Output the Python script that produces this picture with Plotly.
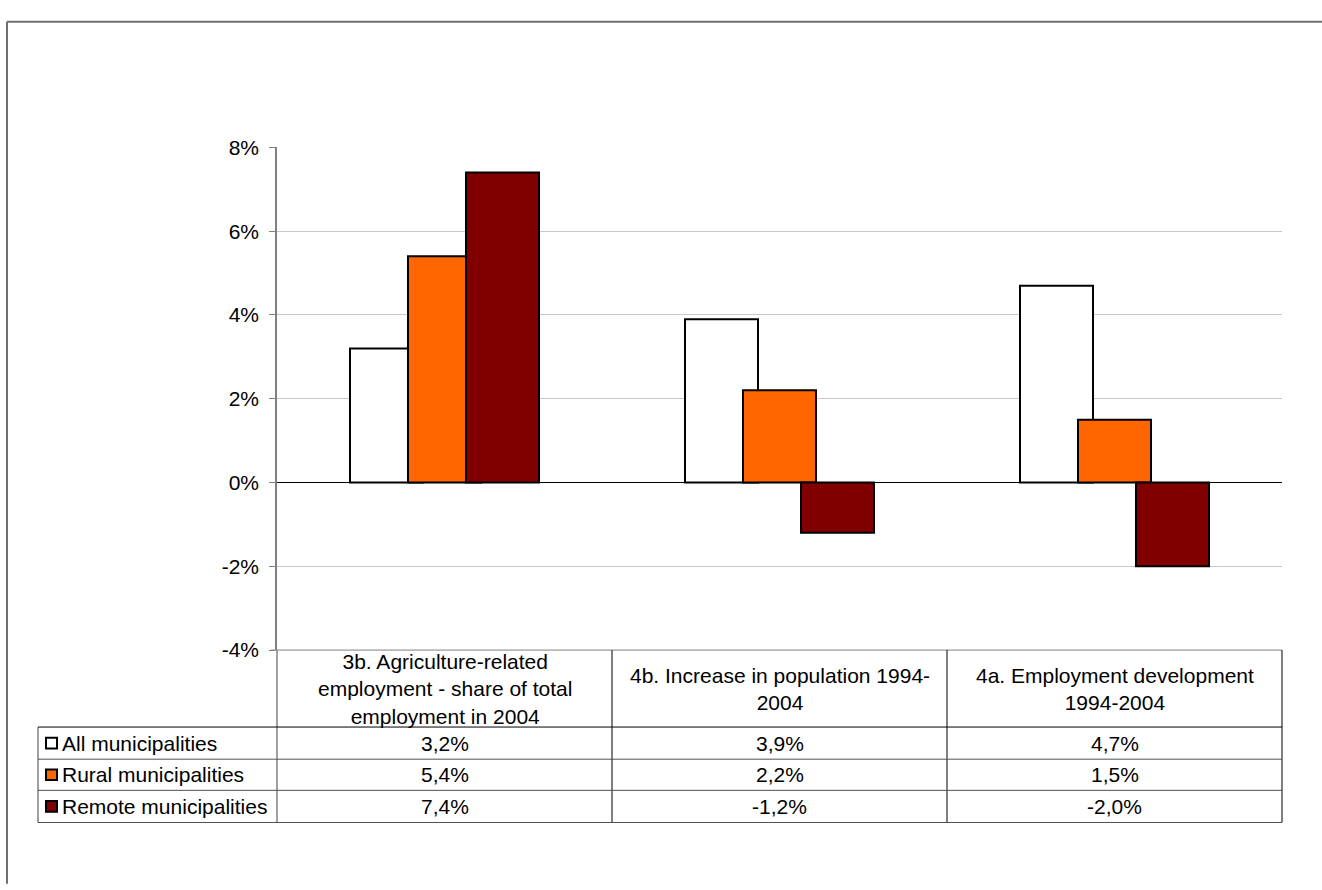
import plotly.graph_objects as go

# Indicators (table header / x categories)
categories = [
    "3b. Agriculture-related<br>employment - share of total<br>employment in 2004",
    "4b. Increase in population 1994-<br>2004",
    "4a. Employment development<br>1994-2004",
]

# Series values, in percent
series_names = ["All municipalities", "Rural municipalities", "Remote municipalities"]
all_municipalities = [3.2, 3.9, 4.7]
rural_municipalities = [5.4, 2.2, 1.5]
remote_municipalities = [7.4, -1.2, -2.0]

y_tick_values = [-4, -2, 0, 2, 4, 6, 8]

series_values = [all_municipalities, rural_municipalities, remote_municipalities]
series_colors = ["#FFFFFF", "#FF6600", "#800000"]

W, H = 1322, 890
FONT = "Arial, Liberation Sans, sans-serif"
FS = 21


def px(x):
    return x / W


def py(y):
    return 1 - y / H


# plot area in pixels
PL, PR = 277, 1282
PT, PB = 139, 655
COL_W = (PR - PL) / 3

# table rows (pixels)
HDR_BOTTOM = 734
ROW_EDGES = [734, 767, 799, 832]
TABLE_LEFT = 38

bar_width = 73 / COL_W
bar_offsets = [(350 - (PL + COL_W / 2)) / COL_W,
               (408 - (PL + COL_W / 2)) / COL_W,
               (466 - (PL + COL_W / 2)) / COL_W]

fig = go.Figure()
for name, vals, col, off in zip(series_names, series_values, series_colors, bar_offsets):
    fig.add_trace(go.Bar(
        x=list(range(len(categories))),
        y=[v / 100 for v in vals],
        name=name,
        width=bar_width,
        offset=off,
        marker=dict(color=col, line=dict(color="#000000", width=2)),
        showlegend=False,
        hoverinfo="skip",
    ))

shapes = []
annotations = []

# outer chart frame (left and top edges visible)
shapes.append(dict(type="line", xref="paper", yref="paper",
                   x0=px(7), x1=px(W + 5), y0=py(10), y1=py(10),
                   line=dict(color="#6f6f6f", width=2)))
shapes.append(dict(type="line", xref="paper", yref="paper",
                   x0=px(7), x1=px(7), y0=py(10), y1=py(H + 5),
                   line=dict(color="#6f6f6f", width=2)))

# data table: top edge (continuation of the -4% level) and axis line through table
shapes.append(dict(type="line", xref="paper", yref="paper",
                   x0=px(271), x1=px(PR), y0=py(PB), y1=py(PB),
                   line=dict(color="#808080", width=1)))
shapes.append(dict(type="line", xref="paper", yref="paper",
                   x0=px(PL), x1=px(PL), y0=py(PB), y1=py(ROW_EDGES[-1]),
                   line=dict(color="#808080", width=1.5)))
# column separators
for i in range(1, 4):
    xx = PL + COL_W * i
    shapes.append(dict(type="line", xref="paper", yref="paper",
                       x0=px(xx), x1=px(xx), y0=py(PB), y1=py(ROW_EDGES[-1]),
                       line=dict(color="#000000", width=1)))
# left border of row labels
shapes.append(dict(type="line", xref="paper", yref="paper",
                   x0=px(TABLE_LEFT), x1=px(TABLE_LEFT), y0=py(ROW_EDGES[0]), y1=py(ROW_EDGES[-1]),
                   line=dict(color="#404040", width=1)))
# row separators
for j, yy in enumerate(ROW_EDGES):
    shapes.append(dict(type="line", xref="paper", yref="paper",
                       x0=px(TABLE_LEFT), x1=px(PR), y0=py(yy), y1=py(yy),
                       line=dict(color="#000000" if j == 0 else "#505050", width=1)))

# header cells
for i, cat in enumerate(categories):
    annotations.append(dict(
        xref="paper", yref="paper", x=px(PL + COL_W * (i + 0.5)), y=py((PB + HDR_BOTTOM) / 2),
        text=cat, showarrow=False, xanchor="center", yanchor="middle", align="center",
        font=dict(family=FONT, size=FS, color="#000000"),
    ))

# body rows: legend key, series name and values
for r, (name, vals, col) in enumerate(zip(series_names, series_values, series_colors)):
    y0, y1 = ROW_EDGES[r], ROW_EDGES[r + 1]
    yc = (y0 + y1) / 2
    shapes.append(dict(type="rect", xref="paper", yref="paper",
                       x0=px(46), x1=px(57), y0=py(yc - 5.5), y1=py(yc + 5.5),
                       fillcolor=col, line=dict(color="#000000", width=2)))
    annotations.append(dict(
        xref="paper", yref="paper", x=px(60), y=py(yc),
        text=name, showarrow=False, xanchor="left", yanchor="middle",
        font=dict(family=FONT, size=FS, color="#000000"),
    ))
    for i, v in enumerate(vals):
        label = f"{v:.1f}%".replace(".", ",")
        annotations.append(dict(
            xref="paper", yref="paper", x=px(PL + COL_W * (i + 0.5)), y=py(yc),
            text=label, showarrow=False, xanchor="center", yanchor="middle",
            font=dict(family=FONT, size=FS, color="#000000"),
        ))

fig.update_layout(
    width=W, height=H, autosize=False,
    margin=dict(l=0, r=0, t=0, b=0),
    paper_bgcolor="#FFFFFF", plot_bgcolor="#FFFFFF",
    barmode="overlay",
    font=dict(family=FONT, size=FS, color="#000000"),
    shapes=shapes, annotations=annotations,
    xaxis=dict(domain=[px(PL), px(PR)], range=[-0.5, 2.5], visible=False, fixedrange=True),
    yaxis=dict(
        domain=[py(PB), py(PT)], range=[-0.04, 0.08],
        tickvals=[v / 100 for v in y_tick_values],
        ticktext=[f"{v}%" for v in y_tick_values],
        showgrid=True, gridcolor="#c8c8c8", gridwidth=1,
        zeroline=True, zerolinecolor="#000000", zerolinewidth=1,
        showline=True, linecolor="#808080", linewidth=1.5,
        ticks="outside", ticklen=6, tickcolor="#808080", tickwidth=1,
        ticklabelstandoff=6,
        tickfont=dict(family=FONT, size=FS, color="#000000"),
        fixedrange=True,
    ),
)

fig.write_html("out.html")
